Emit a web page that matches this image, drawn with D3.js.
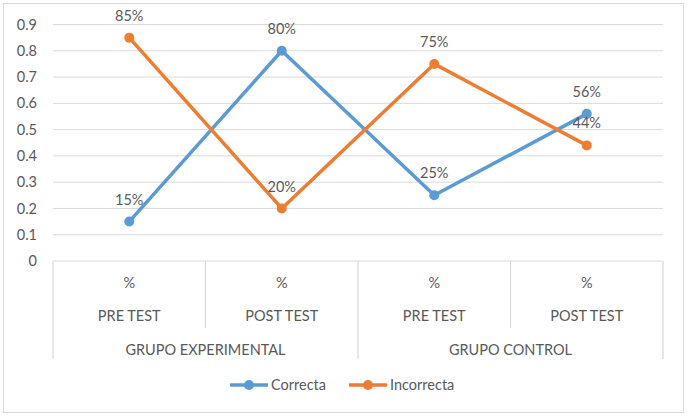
<!DOCTYPE html>
<html><head><meta charset="utf-8">
<script src="https://cdn.jsdelivr.net/npm/d3@7"></script>
<style>body{margin:0;background:#fff}svg text{font-family:Lato,"Open Sans",sans-serif;fill:#595959}</style>
</head><body><svg id="c" width="689" height="416"></svg>
<script>
const categories = ["PRE TEST","POST TEST","PRE TEST","POST TEST"];
const subLabels = ["%","%","%","%"];
const groups = ["GRUPO EXPERIMENTAL","GRUPO CONTROL"];
const correcta = [0.15,0.80,0.25,0.56];
const incorrecta = [0.85,0.20,0.75,0.44];
const correctaLabels = ["15%","80%","25%","56%"];
const incorrectaLabels = ["85%","20%","75%","44%"];
const yTicks = [0,0.1,0.2,0.3,0.4,0.5,0.6,0.7,0.8,0.9];

const FS = 14.5;
const svg = d3.select("#c");
svg.append("rect").attr("x",3.5).attr("y",3.5).attr("width",680).attr("height",409)
  .attr("fill","#fff").attr("stroke","#d9d9d9");
const L=53,R=663,T=24.5,B=261;
const x = d3.scaleBand().domain(d3.range(4)).range([L,R]);
const y = d3.scaleLinear().domain([0,0.9]).range([B,T]);
const blue="#5B9BD5", orange="#ED7D31";

// gridlines
svg.append("g").selectAll("line").data(yTicks.filter(d=>d>0)).join("line")
  .attr("x1",L).attr("x2",R).attr("y1",d=>y(d)).attr("y2",d=>y(d))
  .attr("stroke","#d9d9d9").attr("stroke-width",1);
svg.append("g").selectAll("text").data(yTicks).join("text")
  .attr("x",37).attr("y",d=>y(d)).attr("dy","0.35em").attr("text-anchor","end")
  .attr("font-size",FS).text(d=>d===0?"0":d3.format(".1f")(d));

// category axis boxes
const ax = svg.append("g").attr("stroke","#d9d9d9").attr("stroke-width",1.2);
ax.append("line").attr("x1",L).attr("x2",R).attr("y1",B).attr("y2",B);
d3.range(5).forEach(i=>{
  const xx = i<4 ? x(i) : R;
  const outer = (i%2===0);
  ax.append("line").attr("x1",xx).attr("x2",xx).attr("y1",B).attr("y2",outer?359:328);
});
svg.append("g").selectAll("text").data(subLabels).join("text")
  .attr("x",(d,i)=>x(i)+x.bandwidth()/2).attr("y",283).attr("dy","0.35em")
  .attr("text-anchor","middle").attr("font-size",FS).text(d=>d);
svg.append("g").selectAll("text").data(categories).join("text")
  .attr("x",(d,i)=>x(i)+x.bandwidth()/2).attr("y",316).attr("dy","0.35em")
  .attr("text-anchor","middle").attr("font-size",FS).text(d=>d);
svg.append("g").selectAll("text").data(groups).join("text")
  .attr("x",(d,i)=>x(i*2)+x.bandwidth()).attr("y",350).attr("dy","0.35em")
  .attr("text-anchor","middle").attr("font-size",FS).text(d=>d);

const line = d3.line().x((d,i)=>x(i)+x.bandwidth()/2).y(d=>y(d));
function series(vals,color){
  const g=svg.append("g");
  g.append("path").datum(vals).attr("d",line).attr("fill","none")
    .attr("stroke",color).attr("stroke-width",3.5).attr("stroke-linejoin","round");
  g.selectAll("circle").data(vals).join("circle")
    .attr("cx",(d,i)=>x(i)+x.bandwidth()/2).attr("cy",d=>y(d)).attr("r",5).attr("fill",color);
}
series(correcta,blue);
series(incorrecta,orange);
function labels(vals,labs){
  svg.append("g").selectAll("text").data(vals).join("text")
    .attr("x",(d,i)=>x(i)+x.bandwidth()/2).attr("y",d=>y(d)-22).attr("dy","0.35em")
    .attr("text-anchor","middle").attr("font-size",FS).text((d,i)=>labs[i]);
}
labels(correcta,correctaLabels);
labels(incorrecta,incorrectaLabels);

// legend
const leg = [{n:"Correcta",c:blue,x:230},{n:"Incorrecta",c:orange,x:349}];
const lg = svg.append("g").selectAll("g").data(leg).join("g");
lg.append("line").attr("x1",d=>d.x).attr("x2",d=>d.x+38).attr("y1",385).attr("y2",385)
  .attr("stroke",d=>d.c).attr("stroke-width",3.5);
lg.append("circle").attr("cx",d=>d.x+19).attr("cy",385).attr("r",5).attr("fill",d=>d.c);
lg.append("text").attr("x",d=>d.x+41).attr("y",385).attr("dy","0.35em").attr("font-size",FS).text(d=>d.n);
</script></body></html>
